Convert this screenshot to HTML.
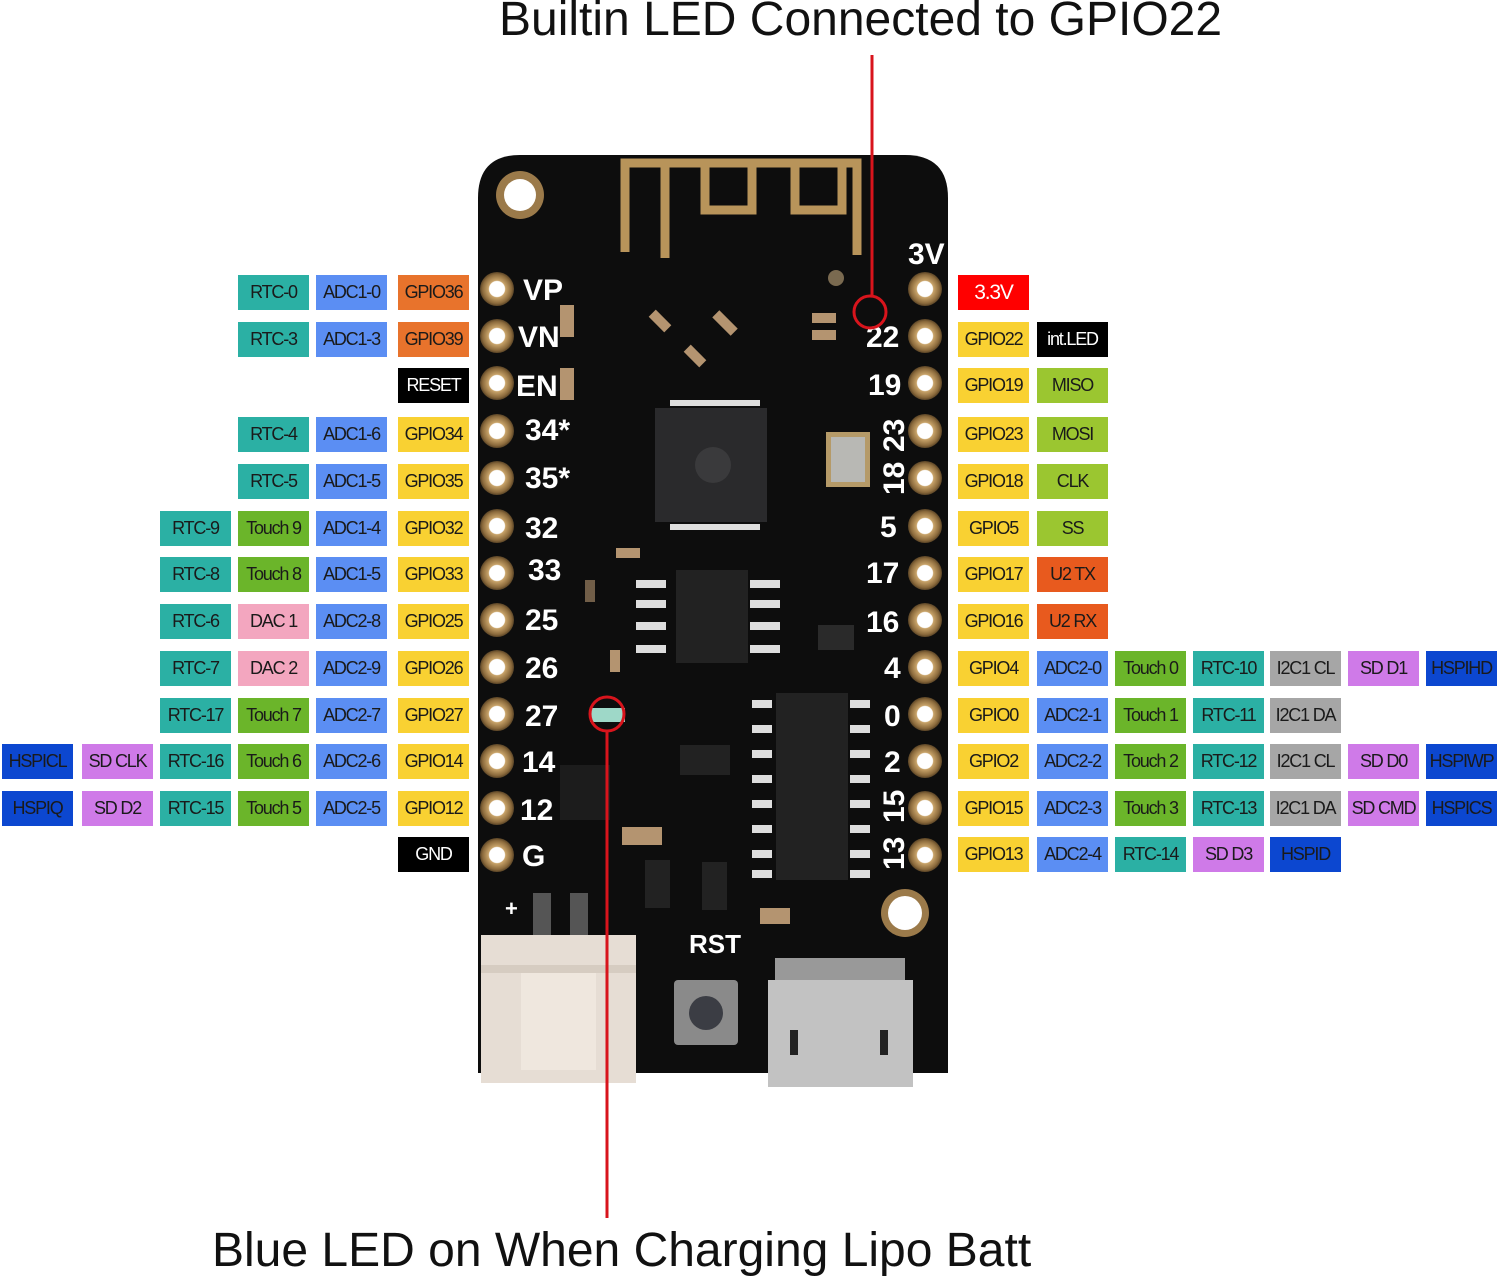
<!DOCTYPE html>
<html><head><meta charset="utf-8"><style>
body{margin:0;width:1500px;height:1283px;background:#fff;position:relative;overflow:hidden;font-family:"Liberation Sans",sans-serif}
.b{position:absolute;height:35px;width:71px;display:flex;align-items:center;justify-content:center;font-size:18px;letter-spacing:-1.2px;color:#1a1a1a;white-space:nowrap}
.t{position:absolute;font-size:48px;color:#111;white-space:nowrap}
svg{position:absolute;left:0;top:0}
</style></head><body>
<div class="t" style="left:499px;top:-8px">Builtin LED Connected to GPIO22</div>
<div class="t" style="left:212px;top:1223px">Blue LED on When Charging Lipo Batt</div>

<svg width="1500" height="1283" viewBox="0 0 1500 1283">
<defs>
<radialGradient id="hole"><stop offset="0.45" stop-color="#fff"/><stop offset="0.5" stop-color="#c9a46a"/><stop offset="0.85" stop-color="#8b6a3c"/><stop offset="1" stop-color="#5a4426"/></radialGradient>
</defs>
<path d="M520 155 H905 Q948 155 948 198 V1073 H478 V198 Q478 155 520 155 Z" fill="#0d0d0d"/>
<g fill="none" stroke="#b8945a" stroke-width="9">
<path d="M625 252 V163 H857 V255"/>
<path d="M665 258 V163"/>
<path d="M705 163 V210 H752 V163"/>
<path d="M795 163 V210 H842 V163"/>
</g>
<circle cx="520" cy="195" r="24" fill="#9b7a4a"/><circle cx="520" cy="195" r="16" fill="#fff"/>
<circle cx="905" cy="913" r="24" fill="#9b7a4a"/><circle cx="905" cy="913" r="17" fill="#fff"/>
<circle cx="836" cy="278" r="8" fill="#7a6a50"/>
<g fill="url(#hole)">
<circle cx="497" cy="289" r="17"/><circle cx="497" cy="336" r="17"/><circle cx="497" cy="383" r="17"/><circle cx="497" cy="431" r="17"/><circle cx="497" cy="478" r="17"/><circle cx="497" cy="526" r="17"/><circle cx="497" cy="573" r="17"/><circle cx="497" cy="620" r="17"/><circle cx="497" cy="667" r="17"/><circle cx="497" cy="714" r="17"/><circle cx="497" cy="761" r="17"/><circle cx="497" cy="808" r="17"/><circle cx="497" cy="855" r="17"/>
<circle cx="925" cy="289" r="17"/><circle cx="925" cy="336" r="17"/><circle cx="925" cy="383" r="17"/><circle cx="925" cy="431" r="17"/><circle cx="925" cy="478" r="17"/><circle cx="925" cy="526" r="17"/><circle cx="925" cy="573" r="17"/><circle cx="925" cy="620" r="17"/><circle cx="925" cy="667" r="17"/><circle cx="925" cy="714" r="17"/><circle cx="925" cy="761" r="17"/><circle cx="925" cy="808" r="17"/><circle cx="925" cy="855" r="17"/>
</g>
<g fill="#fff" font-family="Liberation Sans" font-weight="bold" font-size="30">
<text x="523" y="300">VP</text><text x="518" y="347">VN</text><text x="516" y="396">EN</text>
<text x="525" y="440">34*</text><text x="525" y="488">35*</text><text x="525" y="538">32</text>
<text x="528" y="580">33</text><text x="525" y="630">25</text><text x="525" y="678">26</text>
<text x="525" y="726">27</text><text x="522" y="772">14</text><text x="520" y="820">12</text>
<text x="522" y="866">G</text>
<text x="908" y="264">3V</text>
<text x="866" y="347">22</text><text x="868" y="395">19</text><text x="866" y="583">17</text><text x="866" y="632">16</text>
<text x="884" y="678">4</text><text x="884" y="726">0</text><text x="884" y="772">2</text><text x="880" y="537">5</text>
<text transform="translate(904 452) rotate(-90)">23</text>
<text transform="translate(904 495) rotate(-90)">18</text>
<text transform="translate(904 823) rotate(-90)">15</text>
<text transform="translate(904 870) rotate(-90)">13</text>
<text x="689" y="953" font-size="26">RST</text>
<text x="505" y="916" font-size="22">+</text>
</g>
<rect x="655" y="408" width="112" height="114" fill="#2a2a2c"/>
<circle cx="713" cy="465" r="18" fill="#3a3a3c"/>
<rect x="676" y="570" width="72" height="93" fill="#222"/>
<rect x="776" y="693" width="72" height="187" fill="#222"/>
<rect x="680" y="745" width="50" height="30" fill="#222"/>
<rect x="818" y="625" width="36" height="25" fill="#2a2a2a"/>
<rect x="826" y="432" width="44" height="55" fill="#b59a68"/><rect x="831" y="437" width="34" height="45" fill="#b8b8b4"/>
<g fill="#ddd">
<rect x="636" y="580" width="30" height="8"/><rect x="636" y="600" width="30" height="8"/><rect x="636" y="622" width="30" height="8"/><rect x="636" y="645" width="30" height="8"/>
<rect x="750" y="580" width="30" height="8"/><rect x="750" y="600" width="30" height="8"/><rect x="750" y="622" width="30" height="8"/><rect x="750" y="645" width="30" height="8"/>
<rect x="752" y="700" width="20" height="8"/><rect x="752" y="725" width="20" height="8"/><rect x="752" y="750" width="20" height="8"/><rect x="752" y="775" width="20" height="8"/><rect x="752" y="800" width="20" height="8"/><rect x="752" y="825" width="20" height="8"/><rect x="752" y="850" width="20" height="8"/><rect x="752" y="870" width="20" height="8"/>
<rect x="850" y="700" width="20" height="8"/><rect x="850" y="725" width="20" height="8"/><rect x="850" y="750" width="20" height="8"/><rect x="850" y="775" width="20" height="8"/><rect x="850" y="800" width="20" height="8"/><rect x="850" y="825" width="20" height="8"/><rect x="850" y="850" width="20" height="8"/><rect x="850" y="870" width="20" height="8"/>
<rect x="670" y="400" width="90" height="6"/><rect x="670" y="524" width="90" height="6"/>
</g>
<g fill="#b49470">
<rect x="560" y="305" width="14" height="32"/><rect x="560" y="368" width="14" height="32"/><rect x="812" y="313" width="24" height="10"/><rect x="812" y="330" width="24" height="10"/><rect x="616" y="548" width="24" height="10"/><rect x="610" y="650" width="10" height="22"/><rect x="585" y="580" width="10" height="22" opacity=".6"/><rect x="622" y="827" width="40" height="18"/><rect x="655" y="310" width="10" height="22" transform="rotate(-45 660 321)"/><rect x="720" y="310" width="10" height="26" transform="rotate(-45 725 323)"/><rect x="690" y="345" width="10" height="22" transform="rotate(-45 695 356)"/><rect x="760" y="908" width="30" height="16"/>
</g>
<rect x="590" y="708" width="35" height="14" fill="#9ed8c8"/>
<rect x="560" y="765" width="50" height="55" fill="#1c1c1c"/>
<rect x="645" y="860" width="25" height="48" fill="#222"/><rect x="702" y="862" width="25" height="48" fill="#222"/>
<rect x="533" y="893" width="18" height="70" fill="#555"/><rect x="570" y="893" width="18" height="70" fill="#555"/>
<rect x="481" y="935" width="155" height="148" fill="#e6ddd4"/>
<rect x="521" y="970" width="75" height="100" fill="#efe7de"/>
<rect x="481" y="965" width="155" height="8" fill="#d6ccc1"/>
<rect x="674" y="980" width="64" height="65" rx="4" fill="#8a8a8a"/>
<circle cx="706" cy="1013" r="17" fill="#3b3d44"/>
<rect x="775" y="958" width="130" height="25" fill="#999"/>
<rect x="768" y="980" width="145" height="107" fill="#c2c2c2"/>
<rect x="790" y="1030" width="8" height="25" fill="#222"/><rect x="880" y="1030" width="8" height="25" fill="#222"/>
<g stroke="#d8141c" stroke-width="3" fill="none">
<line x1="872" y1="55" x2="872" y2="296"/>
<circle cx="870" cy="312" r="16"/>
<circle cx="607" cy="714" r="17"/>
<line x1="607" y1="731" x2="607" y2="1218"/>
</g>
</svg>

<div class="b" style="left:238px;top:275px;background:#2bb0a4">RTC-0</div>
<div class="b" style="left:316px;top:275px;background:#5b8ef3">ADC1-0</div>
<div class="b" style="left:398px;top:275px;background:#e8732c">GPIO36</div>
<div class="b" style="left:238px;top:322px;background:#2bb0a4">RTC-3</div>
<div class="b" style="left:316px;top:322px;background:#5b8ef3">ADC1-3</div>
<div class="b" style="left:398px;top:322px;background:#e8732c">GPIO39</div>
<div class="b" style="left:398px;top:368px;background:#000;color:#fff">RESET</div>
<div class="b" style="left:238px;top:417px;background:#2bb0a4">RTC-4</div>
<div class="b" style="left:316px;top:417px;background:#5b8ef3">ADC1-6</div>
<div class="b" style="left:398px;top:417px;background:#f9d132">GPIO34</div>
<div class="b" style="left:238px;top:464px;background:#2bb0a4">RTC-5</div>
<div class="b" style="left:316px;top:464px;background:#5b8ef3">ADC1-5</div>
<div class="b" style="left:398px;top:464px;background:#f9d132">GPIO35</div>
<div class="b" style="left:160px;top:511px;background:#2bb0a4">RTC-9</div>
<div class="b" style="left:238px;top:511px;background:#6bb52a">Touch 9</div>
<div class="b" style="left:316px;top:511px;background:#5b8ef3">ADC1-4</div>
<div class="b" style="left:398px;top:511px;background:#f9d132">GPIO32</div>
<div class="b" style="left:160px;top:557px;background:#2bb0a4">RTC-8</div>
<div class="b" style="left:238px;top:557px;background:#6bb52a">Touch 8</div>
<div class="b" style="left:316px;top:557px;background:#5b8ef3">ADC1-5</div>
<div class="b" style="left:398px;top:557px;background:#f9d132">GPIO33</div>
<div class="b" style="left:160px;top:604px;background:#2bb0a4">RTC-6</div>
<div class="b" style="left:238px;top:604px;background:#f3a6bf">DAC 1</div>
<div class="b" style="left:316px;top:604px;background:#5b8ef3">ADC2-8</div>
<div class="b" style="left:398px;top:604px;background:#f9d132">GPIO25</div>
<div class="b" style="left:160px;top:651px;background:#2bb0a4">RTC-7</div>
<div class="b" style="left:238px;top:651px;background:#f3a6bf">DAC 2</div>
<div class="b" style="left:316px;top:651px;background:#5b8ef3">ADC2-9</div>
<div class="b" style="left:398px;top:651px;background:#f9d132">GPIO26</div>
<div class="b" style="left:160px;top:698px;background:#2bb0a4">RTC-17</div>
<div class="b" style="left:238px;top:698px;background:#6bb52a">Touch 7</div>
<div class="b" style="left:316px;top:698px;background:#5b8ef3">ADC2-7</div>
<div class="b" style="left:398px;top:698px;background:#f9d132">GPIO27</div>
<div class="b" style="left:2px;top:744px;background:#0c47d0">HSPICL</div>
<div class="b" style="left:82px;top:744px;background:#cf7ae8">SD CLK</div>
<div class="b" style="left:160px;top:744px;background:#2bb0a4">RTC-16</div>
<div class="b" style="left:238px;top:744px;background:#6bb52a">Touch 6</div>
<div class="b" style="left:316px;top:744px;background:#5b8ef3">ADC2-6</div>
<div class="b" style="left:398px;top:744px;background:#f9d132">GPIO14</div>
<div class="b" style="left:2px;top:791px;background:#0c47d0">HSPIQ</div>
<div class="b" style="left:82px;top:791px;background:#cf7ae8">SD D2</div>
<div class="b" style="left:160px;top:791px;background:#2bb0a4">RTC-15</div>
<div class="b" style="left:238px;top:791px;background:#6bb52a">Touch 5</div>
<div class="b" style="left:316px;top:791px;background:#5b8ef3">ADC2-5</div>
<div class="b" style="left:398px;top:791px;background:#f9d132">GPIO12</div>
<div class="b" style="left:398px;top:837px;background:#000;color:#fff">GND</div>

<div class="b" style="left:958px;top:275px;background:#f00;color:#fff;font-size:21px">3.3V</div>
<div class="b" style="left:958px;top:322px;background:#f9d132">GPIO22</div>
<div class="b" style="left:1037px;top:322px;background:#000;color:#fff">int.LED</div>
<div class="b" style="left:958px;top:368px;background:#f9d132">GPIO19</div>
<div class="b" style="left:1037px;top:368px;background:#9bc630">MISO</div>
<div class="b" style="left:958px;top:417px;background:#f9d132">GPIO23</div>
<div class="b" style="left:1037px;top:417px;background:#9bc630">MOSI</div>
<div class="b" style="left:958px;top:464px;background:#f9d132">GPIO18</div>
<div class="b" style="left:1037px;top:464px;background:#9bc630">CLK</div>
<div class="b" style="left:958px;top:511px;background:#f9d132">GPIO5</div>
<div class="b" style="left:1037px;top:511px;background:#9bc630">SS</div>
<div class="b" style="left:958px;top:557px;background:#f9d132">GPIO17</div>
<div class="b" style="left:1037px;top:557px;background:#e85a1e">U2 TX</div>
<div class="b" style="left:958px;top:604px;background:#f9d132">GPIO16</div>
<div class="b" style="left:1037px;top:604px;background:#e85a1e">U2 RX</div>

<div class="b" style="left:958px;top:651px;background:#f9d132">GPIO4</div>
<div class="b" style="left:1037px;top:651px;background:#5b8ef3">ADC2-0</div>
<div class="b" style="left:1115px;top:651px;background:#6bb52a">Touch 0</div>
<div class="b" style="left:1193px;top:651px;background:#2bb0a4">RTC-10</div>
<div class="b" style="left:1270px;top:651px;background:#a6a6a6">I2C1 CL</div>
<div class="b" style="left:1348px;top:651px;background:#cf7ae8">SD D1</div>
<div class="b" style="left:1426px;top:651px;background:#0c47d0">HSPIHD</div>

<div class="b" style="left:958px;top:698px;background:#f9d132">GPIO0</div>
<div class="b" style="left:1037px;top:698px;background:#5b8ef3">ADC2-1</div>
<div class="b" style="left:1115px;top:698px;background:#6bb52a">Touch 1</div>
<div class="b" style="left:1193px;top:698px;background:#2bb0a4">RTC-11</div>
<div class="b" style="left:1270px;top:698px;background:#a6a6a6">I2C1 DA</div>

<div class="b" style="left:958px;top:744px;background:#f9d132">GPIO2</div>
<div class="b" style="left:1037px;top:744px;background:#5b8ef3">ADC2-2</div>
<div class="b" style="left:1115px;top:744px;background:#6bb52a">Touch 2</div>
<div class="b" style="left:1193px;top:744px;background:#2bb0a4">RTC-12</div>
<div class="b" style="left:1270px;top:744px;background:#a6a6a6">I2C1 CL</div>
<div class="b" style="left:1348px;top:744px;background:#cf7ae8">SD D0</div>
<div class="b" style="left:1426px;top:744px;background:#0c47d0">HSPIWP</div>

<div class="b" style="left:958px;top:791px;background:#f9d132">GPIO15</div>
<div class="b" style="left:1037px;top:791px;background:#5b8ef3">ADC2-3</div>
<div class="b" style="left:1115px;top:791px;background:#6bb52a">Touch 3</div>
<div class="b" style="left:1193px;top:791px;background:#2bb0a4">RTC-13</div>
<div class="b" style="left:1270px;top:791px;background:#a6a6a6">I2C1 DA</div>
<div class="b" style="left:1348px;top:791px;background:#cf7ae8">SD CMD</div>
<div class="b" style="left:1426px;top:791px;background:#0c47d0">HSPICS</div>

<div class="b" style="left:958px;top:837px;background:#f9d132">GPIO13</div>
<div class="b" style="left:1037px;top:837px;background:#5b8ef3">ADC2-4</div>
<div class="b" style="left:1115px;top:837px;background:#2bb0a4">RTC-14</div>
<div class="b" style="left:1193px;top:837px;background:#cf7ae8">SD D3</div>
<div class="b" style="left:1270px;top:837px;background:#0c47d0">HSPID</div>
</body></html>
